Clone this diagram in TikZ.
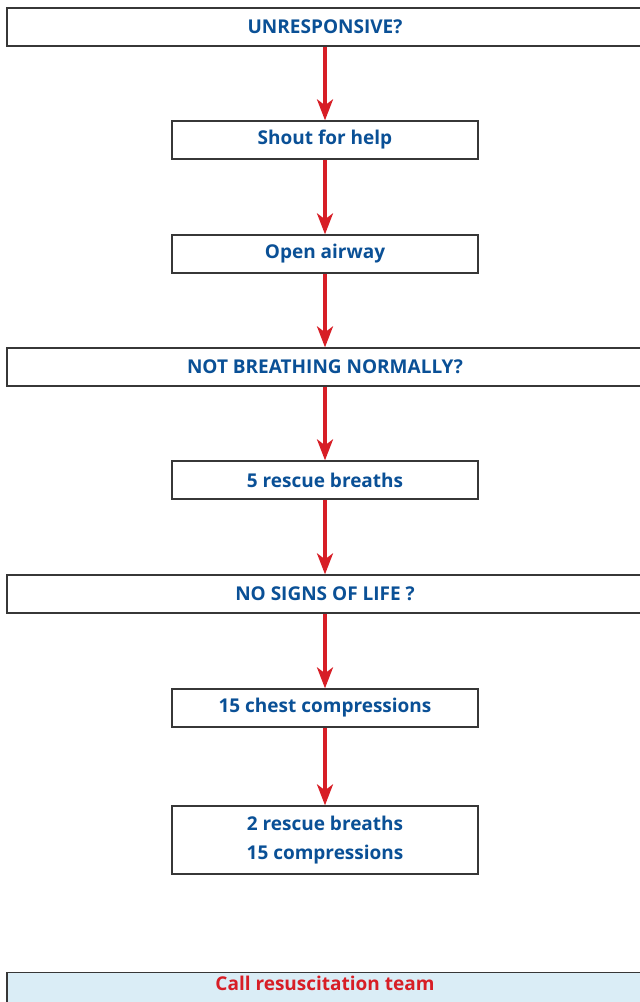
\documentclass[tikz,border=0pt]{standalone}
\usepackage{fontspec}
\setmainfont{Open Sans}
\usetikzlibrary{arrows.meta}
\definecolor{stepblue}{RGB}{10,80,150}
\definecolor{arrowred}{RGB}{215,30,38}
\definecolor{callfill}{RGB}{218,237,246}
\definecolor{boxline}{RGB}{55,55,55}
\begin{document}
\begin{tikzpicture}[x=1pt, y=-1pt,
  basebox/.style={draw=boxline, line width=1.3pt, fill=white, inner sep=0pt,
    font=\fontsize{19}{29}\selectfont\bfseries, text=stepblue},
  widebox/.style={basebox, minimum width=636pt, minimum height=38pt},
  stepbox/.style={basebox, minimum width=306pt, minimum height=38pt},
  callbox/.style={basebox, fill=callfill, text=arrowred, minimum width=636pt,
    inner ysep=3pt, text depth=24pt},
  flow/.style={draw=arrowred, line width=3.3pt, -{Stealth[length=21pt, width=16pt, inset=6pt]}}]
\useasboundingbox (0,0) rectangle (640,1002);
\clip (0,0) rectangle (640,1002);
\node[widebox] (unresp) at (325,27) {UNRESPONSIVE?};
\node[stepbox] (shout) at (325,140) {Shout for help};
\node[stepbox] (airway) at (325,254) {Open airway};
\node[widebox] (notbreath) at (325,367) {NOT BREATHING NORMALLY?};
\node[stepbox] (five) at (325,480) {5 rescue breaths};
\node[widebox] (nosigns) at (325,594) {NO SIGNS OF LIFE ?};
\node[stepbox] (chest) at (325,708) {15 chest compressions};
\node[stepbox, minimum height=68pt, align=center] (cycle) at (325,840) {2 rescue breaths\\15 compressions};
\node[callbox, anchor=north] (team) at (325,972) {Call resuscitation team};
\foreach \from/\to in {unresp/shout, shout/airway, airway/notbreath, notbreath/five,
  five/nosigns, nosigns/chest, chest/cycle}
  \draw[flow] (\from) -- (\to);
\end{tikzpicture}
\end{document}
